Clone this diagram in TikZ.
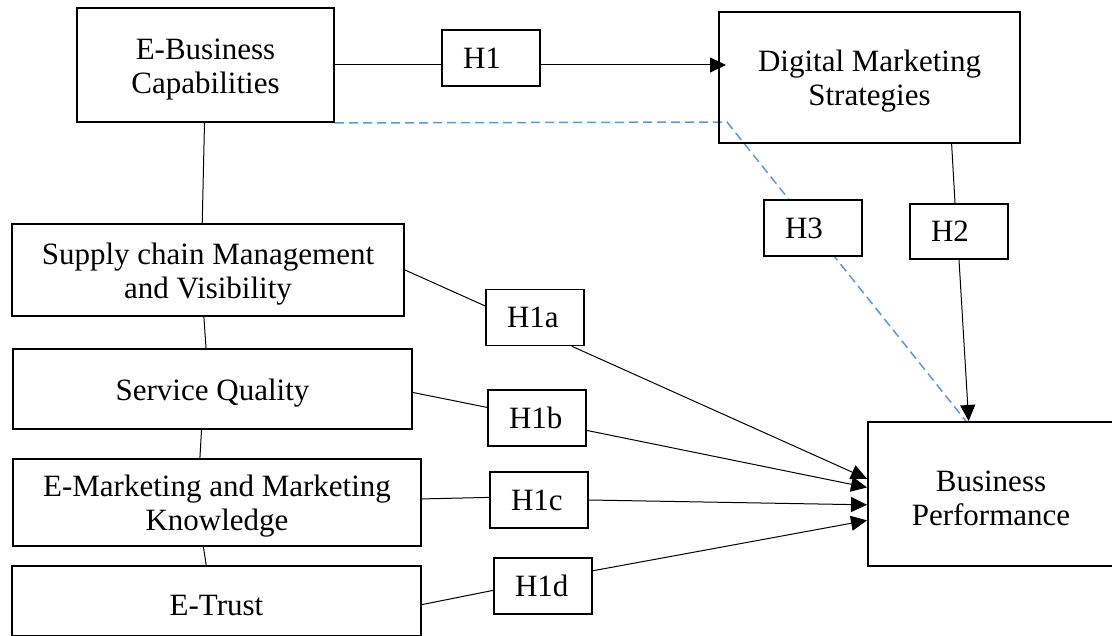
\documentclass[tikz,border=0pt]{standalone}
\usepackage{fontspec}
\setmainfont{Liberation Serif}
\usetikzlibrary{arrows.meta,backgrounds}
\definecolor{dashblue}{RGB}{91,155,213}

\begin{document}
\begin{tikzpicture}[x=1pt,y=-1pt,
    construct/.style={draw, line width=2pt, align=center, inner sep=0pt,
      font=\fontsize{31}{34}\selectfont, text height=#1},
    construct/.default=29pt,
    hyp/.style={draw, fill=white, line width=1.5pt, minimum width=98pt,
      minimum height=56pt, text width=56pt, inner xsep=21pt, inner ysep=0pt,
      align=left, font=\fontsize{31}{34}\selectfont},
    link/.style={line width=1pt},
    arr/.style={line width=1pt, -{Triangle[length=16pt,width=15pt]}},
    mediate/.style={line width=1.5pt, dashblue, dash pattern=on 9pt off 5pt}]

  \pgfmathsetmacro{\pw}{1112}
  \pgfmathsetmacro{\ph}{636}
  \useasboundingbox (0,0) rectangle (\pw,\ph);
  \clip (0,0) rectangle (\pw,\ph);

  % Constructs
  \node[construct=63pt, minimum width=257pt, minimum height=114pt] (ebc) at (205.5,65) {E-Business\\Capabilities};
  \node[construct=63pt, minimum width=301pt, minimum height=131pt] (dms) at (869.5,77.5) {Digital Marketing\\Strategies};
  \node[construct=63pt, minimum width=392pt, minimum height=92pt] (scm) at (208,270) {Supply chain Management\\and Visibility};
  \node[construct, minimum width=399pt, minimum height=80pt] (sq) at (212.5,389) {Service Quality};
  \node[construct=63pt, minimum width=408pt, minimum height=87pt] (em) at (217,502.5) {E-Marketing and Marketing\\Knowledge};
  \node[construct, minimum width=409pt, minimum height=70pt] (et) at (216.5,601) {E-Trust}; % cut by the border
  \node[construct=63pt, minimum width=246pt, minimum height=144pt] (bp) at (991,494) {Business\\Performance}; % cut by the border

  % Hypotheses
  \node[hyp] (h1) at (491,58) {H1};
  \node[hyp] (h3) at (813,228) {H3};
  \node[hyp, minimum height=55pt] (h2) at (959,231.5) {H2};
  \foreach \n/\x/\y in {a/535/317.5, b/537/418, c/539/500, d/543/586}
  {
    \node[hyp] (h1\n) at (\x,\y) {H1\n};
  }

  % Chain of dimensions
  \draw[link] (ebc.269) -- (scm.97);
  \draw[link] (scm.265) -- (sq.99);
  \draw[link] (sq.255) -- (em.111);
  \draw[link] (em.253) -- (et.106.7);

  % H1 and H2
  \draw[link] (ebc.east) -- (ebc.east -| h1.west);
  \draw[arr, shorten >=-8pt] (ebc.east -| h1.east) -- (ebc.east -| dms.west);
  \draw[link] (dms.321.6) -- (h2.98.3);
  \draw[arr] (h2.south) -- (bp.107.7);

  % H1a to H1d
  \foreach \src/\sa/\hy/\ha in {scm/0/h1a/167, sq/359/h1b/168.5, em/1.8/h1c/177.7, et/359.2/h1d/185.8}
  {
    \draw[link] (\src.\sa) -- (\hy.\ha);
  }
  \foreach \hy/\ha/\ba in {h1a/322.6/173.3, h1b/346.5/177.7, h1c/0/185.1, h1d/17/192.4}
  {
    \draw[arr] (\hy.\ha) -- (bp.\ba);
  }

  % H3 (dashed, behind the H3 box)
  \coordinate (bend) at (727,122);
  \begin{scope}[on background layer]
    \draw[mediate] (ebc.south east) -- (bend) -- (bp.109.6);
  \end{scope}

\end{tikzpicture}
\end{document}
